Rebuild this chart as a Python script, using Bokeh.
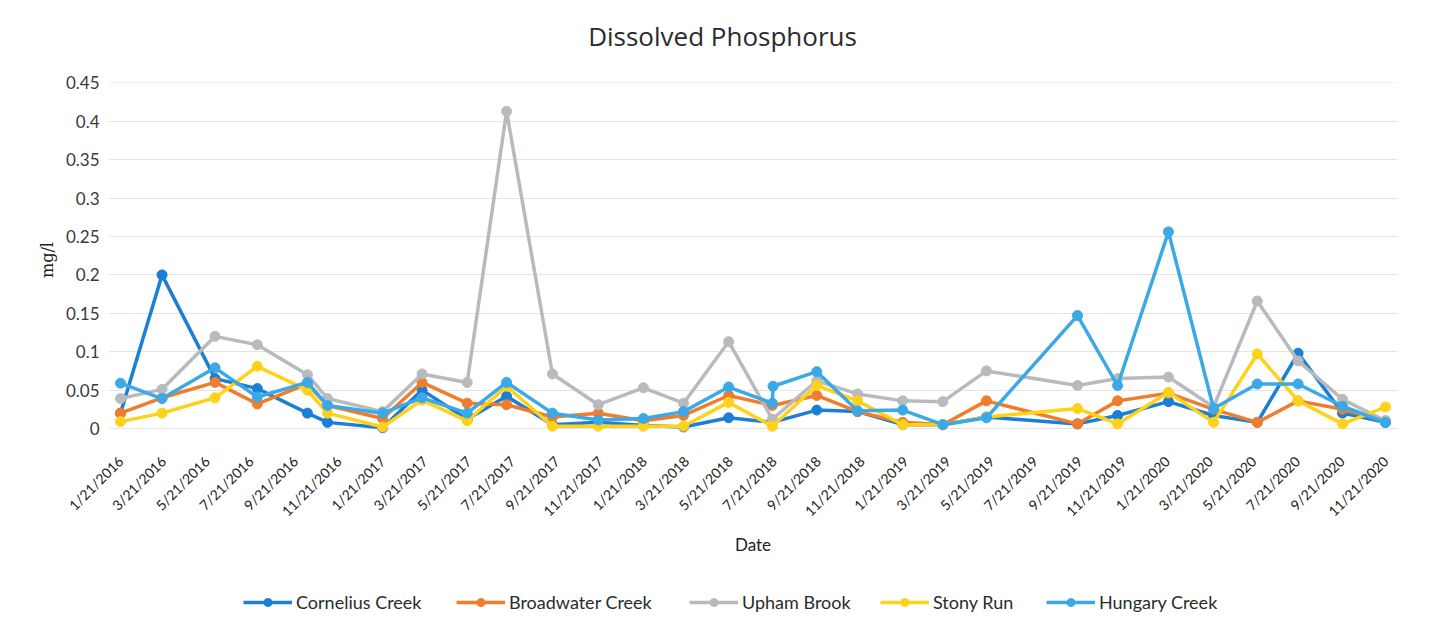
import math
import datetime as dt
from bokeh.plotting import figure
from bokeh.layouts import column
from bokeh.models import Range1d, FixedTicker, Legend, LegendItem, Label
from bokeh.embed import file_html
from bokeh.resources import INLINE

# ---------------- data ----------------
dates = ["2016-01-21", "2016-03-19", "2016-06-01", "2016-07-30", "2016-10-08",
         "2016-11-05", "2017-01-21", "2017-03-17", "2017-05-19", "2017-07-13",
         "2017-09-15", "2017-11-18", "2018-01-20", "2018-03-17", "2018-05-19",
         "2018-07-19", "2018-07-20", "2018-09-19", "2018-11-15", "2019-01-17",
         "2019-03-14", "2019-05-14", "2019-09-18", "2019-11-13", "2020-01-23",
         "2020-03-26", "2020-05-26", "2020-07-22", "2020-09-22", "2020-11-21"]

cornelius = [0.020, 0.200, 0.065, 0.052, 0.020, 0.008, 0.001, 0.050, 0.012, 0.042,
             0.005, 0.008, 0.004, 0.002, 0.014, 0.008, None, 0.024, 0.022, 0.005,
             0.005, 0.015, 0.006, 0.017, 0.035, 0.017, 0.008, 0.098, 0.020, 0.008]
broadwater = [0.020, 0.040, 0.060, 0.032, 0.058, 0.030, 0.013, 0.060, 0.033, 0.031,
              0.015, 0.020, 0.010, 0.017, 0.043, 0.030, None, 0.043, 0.022, 0.008,
              0.005, 0.036, 0.006, 0.036, 0.046, 0.025, 0.008, 0.036, 0.025, 0.010]
upham = [0.039, 0.051, 0.120, 0.109, 0.070, 0.039, 0.022, 0.071, 0.060, 0.413,
         0.071, 0.031, 0.053, 0.033, 0.113, 0.012, None, 0.062, 0.045, 0.036,
         0.035, 0.075, 0.056, 0.065, 0.067, 0.028, 0.166, 0.088, 0.038, 0.010]
stony = [0.009, 0.020, 0.040, 0.081, 0.050, 0.020, 0.002, 0.037, 0.010, 0.055,
         0.003, 0.003, 0.003, 0.003, 0.034, 0.003, None, 0.056, 0.036, 0.005,
         0.005, 0.015, 0.026, 0.006, 0.047, 0.008, 0.097, 0.036, 0.006, 0.028]
hungary = [0.059, 0.039, 0.079, 0.041, 0.060, 0.030, 0.020, 0.040, 0.020, 0.060,
           0.020, 0.011, 0.013, 0.022, 0.054, 0.033, 0.055, 0.074, 0.023, 0.024,
           0.005, 0.014, 0.147, 0.056, 0.256, 0.026, 0.058, 0.058, 0.029, 0.008]

series_names = ["Cornelius Creek", "Broadwater Creek", "Upham Brook", "Stony Run", "Hungary Creek"]
series_values = [cornelius, broadwater, upham, stony, hungary]
series_colors = ["#1b7fd6", "#f07d2c", "#b8bbbe", "#ffd21a", "#3aa9e6"]

x_tick_labels = ["1/21/2016", "3/21/2016", "5/21/2016", "7/21/2016", "9/21/2016", "11/21/2016",
                 "1/21/2017", "3/21/2017", "5/21/2017", "7/21/2017", "9/21/2017", "11/21/2017",
                 "1/21/2018", "3/21/2018", "5/21/2018", "7/21/2018", "9/21/2018", "11/21/2018",
                 "1/21/2019", "3/21/2019", "5/21/2019", "7/21/2019", "9/21/2019", "11/21/2019",
                 "1/21/2020", "3/21/2020", "5/21/2020", "7/21/2020", "9/21/2020", "11/21/2020"]
y_tick_labels = ["0", "0.05", "0.1", "0.15", "0.2", "0.25", "0.3", "0.35", "0.4", "0.45"]

chart_title = "Dissolved Phosphorus"

# ---------------- helpers ----------------
EPOCH = dt.datetime(1970, 1, 1)


def to_ms(d):
    return (d - EPOCH).total_seconds() * 1000.0


x_dates = [dt.datetime.strptime(s, "%Y-%m-%d") for s in dates]
tick_dates = [dt.datetime.strptime(s, "%m/%d/%Y") for s in x_tick_labels]
tick_ms = [to_ms(d) for d in tick_dates]
y_ticks = [float(s) for s in y_tick_labels]

W = 1431
FRAME_LEFT = 108
FRAME_RIGHT = 1397
TITLE_H = 64


def strip(height):
    f = figure(width=W, height=height, output_backend="svg", toolbar_location=None,
               x_range=Range1d(FRAME_LEFT, FRAME_RIGHT), y_range=Range1d(0, height),
               x_axis_location=None, y_axis_location=None, min_border=0)
    f.outline_line_color = None
    f.xgrid.visible = False
    f.ygrid.visible = False
    return f


# ---------------- title strip ----------------
pt = strip(TITLE_H)
pt.add_layout(Label(x=722, y=TITLE_H - 35, text=chart_title, text_align="center",
                    text_baseline="middle", text_font="Open Sans", text_font_size="26px",
                    text_color="#2b2b2b"))

# ---------------- main plot ----------------
pad_days = 16.75
p = figure(width=W, height=583 - TITLE_H, x_axis_type="datetime",
           x_range=Range1d(tick_ms[0] - pad_days * 86400000.0, tick_ms[-1] + pad_days * 86400000.0),
           y_range=Range1d(-0.0117, 0.4505),
           output_backend="svg", toolbar_location=None,
           min_border_left=FRAME_LEFT, min_border_right=W - FRAME_RIGHT,
           min_border_top=82 - TITLE_H, min_border_bottom=146)

p.outline_line_color = None
p.background_fill_color = "white"
p.border_fill_color = "white"

# grid
p.xgrid.visible = False
p.ygrid.ticker = FixedTicker(ticks=y_ticks)
p.ygrid.grid_line_color = "#e4e4e4"
p.ygrid.grid_line_width = 1

# y axis
p.yaxis.ticker = FixedTicker(ticks=y_ticks)
p.yaxis.major_label_overrides = {v: s for v, s in zip(y_ticks, y_tick_labels)}
p.yaxis.axis_line_color = None
p.yaxis.major_tick_line_color = None
p.yaxis.minor_tick_line_color = None
p.yaxis.major_label_standoff = 3
p.yaxis.major_label_text_font = "Lato"
p.yaxis.major_label_text_font_size = "17px"
p.yaxis.major_label_text_color = "#3a3a3a"
p.yaxis.axis_label = "mg/l"
p.yaxis.axis_label_text_font = "DejaVu Serif"
p.yaxis.axis_label_text_font_size = "16px"
p.yaxis.axis_label_text_font_style = "normal"
p.yaxis.axis_label_text_color = "#222222"
p.yaxis.axis_label_standoff = 6

# x axis
p.xaxis.ticker = FixedTicker(ticks=tick_ms)
p.xaxis.major_label_overrides = {v: s for v, s in zip(tick_ms, x_tick_labels)}
p.xaxis.major_label_orientation = math.pi / 4
p.xaxis.axis_line_color = None
p.xaxis.major_tick_line_color = None
p.xaxis.minor_tick_line_color = None
p.xaxis.major_label_standoff = 15
p.xaxis.major_label_text_font = "Lato"
p.xaxis.major_label_text_font_size = "14px"
p.xaxis.major_label_text_color = "#222222"
p.xaxis.axis_label = "Date"
p.xaxis.axis_label_text_font = "Lato"
p.xaxis.axis_label_text_font_size = "17px"
p.xaxis.axis_label_text_font_style = "normal"
p.xaxis.axis_label_text_color = "#222222"
p.xaxis.axis_label_standoff = 6

for name, vals, col in zip(series_names, series_values, series_colors):
    xs = [to_ms(d) for d, v in zip(x_dates, vals) if v is not None]
    ys = [v for v in vals if v is not None]
    p.line(xs, ys, line_color=col, line_width=3.5, line_join="round", line_cap="round")
    p.scatter(xs, ys, marker="circle", size=10, fill_color=col, line_color=col)

# ---------------- legend strip ----------------
pl = strip(36)
legend_x = [243, 456, 689, 880, 1046]   # page x of each legend key
nan = float("nan")
for name, col, lx in zip(series_names, series_colors, legend_x):
    lr = pl.line([nan], [nan], line_color=col, line_width=3.5)
    sr = pl.scatter([nan], [nan], marker="circle", size=10, fill_color=col, line_color=col)
    lg = Legend(items=[LegendItem(label=name, renderers=[lr, sr])], location=(lx - FRAME_LEFT, 6),
                glyph_width=49, glyph_height=20, label_standoff=4,
                padding=0, margin=0, border_line_color=None, background_fill_alpha=0,
                label_text_font="Lato", label_text_font_size="18px", label_text_color="#2b2b2b")
    pl.add_layout(lg)

open("out.html", "w").write(file_html(column(pt, p, pl, spacing=0), INLINE))
